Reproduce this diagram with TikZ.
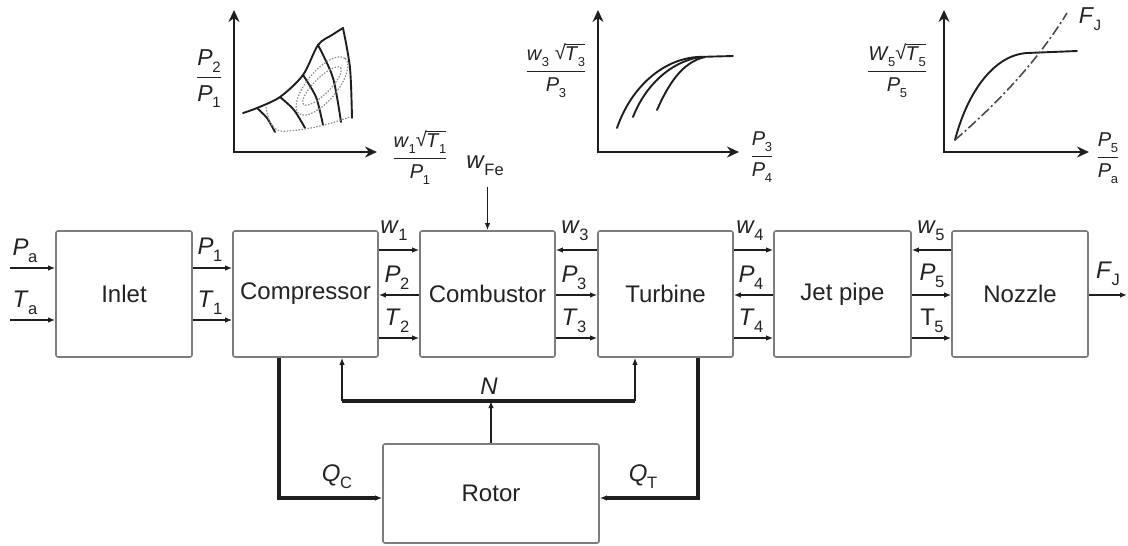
\documentclass[tikz,border=0pt]{standalone}
\usepackage{amsmath}
\usepackage{fontspec}
\setmainfont{Liberation Sans}
\usetikzlibrary{arrows.meta,calc}
\definecolor{txt}{RGB}{35,35,35}
\definecolor{bordergray}{RGB}{125,125,125}
\definecolor{linec}{RGB}{30,30,30}
\definecolor{dotc}{RGB}{140,140,140}
\newcommand\ilab[2]{\textit{#1}\kern-0.5pt\raisebox{-0.3em}{\fontsize{16.5}{16}\selectfont #2}}
\newcommand\glab[2]{\textit{#1}\kern-0.5pt\raisebox{-0.3em}{\fontsize{13}{13}\selectfont #2}}
\newcommand\blab[2]{\textit{#1}\kern-0.5pt\raisebox{-0.3em}{\fontsize{15}{15}\selectfont #2}}
\newcommand\sqT[1]{\raisebox{0.05em}{√}\kern-0.8pt$\overline{\hbox{#1}}$}
\newcommand\gfr[2]{$\genfrac{}{}{1.4pt}{0}{\hbox{#1}}{\hbox{#2}}$}
\begin{document}
\begin{tikzpicture}[x=1pt,y=-1pt,
  blk/.style={draw=bordergray, line width=1.6pt, rounded corners=2pt, fill=white,
    font=\fontsize{24}{26}\selectfont, text=txt, minimum height=126pt, inner sep=1pt},
  lbl/.style={font=\fontsize{24}{26}\selectfont, text=txt, inner sep=0pt},
  glb/.style={font=\fontsize{20}{22}\selectfont, text=txt, inner sep=0pt},
  arr/.style={draw=linec, line width=1.5pt, -{Latex[length=7pt,width=5.5pt]}},
  thk/.style={draw=linec, line width=3.2pt},
  axis/.style={draw=linec, line width=1.8pt, {Stealth[length=12pt,width=11pt]}-{Stealth[length=12pt,width=11pt]}},
  crv/.style={draw=linec, line width=1.9pt, line cap=round},
  dotl/.style={draw=dotc, line width=1.2pt, dash pattern=on 1.5pt off 1.5pt},
  dashdot/.style={draw=linec!80, line width=1.6pt, dash pattern=on 10pt off 3pt on 2pt off 3pt}
]
\useasboundingbox (0,0) rectangle (1128,546);

% ---------------- blocks
\node[blk, minimum width=136pt] (inlet) at (124,294) {Inlet};
\node[blk, minimum width=145pt] (comp) at (305.5,294) {Compressor};
\node[blk, minimum width=135pt] (comb) at (487.5,294) {Combustor};
\node[blk, minimum width=135pt] (turb) at (665.5,294) {Turbine};
\node[blk, minimum width=137pt] (jet) at (842.5,294) {Jet pipe};
\node[blk, minimum width=136pt] (noz) at (1020,294) {Nozzle};
\node[blk, minimum width=216pt, minimum height=99pt] (rotor) at (491,493.5) {Rotor};

% ---------------- level coordinates
\coordinate (yA) at (0,268);
\coordinate (yB) at (0,320);
\coordinate (yW) at (0,250);
\coordinate (yP) at (0,295);
\coordinate (yT) at (0,338);
\coordinate (yQ) at (0,498);
\coordinate (pa) at (10,268);
\coordinate (ta) at (10,320);
\coordinate (fj) at (1127,295);
\coordinate (wfe) at (487.5,187);

% ---------------- horizontal connectors
\draw[arr] (pa) -- (inlet.west |- pa);
\draw[arr] (ta) -- (inlet.west |- ta);
\draw[arr] (inlet.east |- yA) -- (comp.west |- yA);
\draw[arr] (inlet.east |- yB) -- (comp.west |- yB);
\draw[arr] (comp.east |- yW) -- (comb.west |- yW);
\draw[arr] (comb.west |- yP) -- (comp.east |- yP);
\draw[arr] (comp.east |- yT) -- (comb.west |- yT);
\draw[arr] (turb.west |- yW) -- (comb.east |- yW);
\draw[arr] (comb.east |- yP) -- (turb.west |- yP);
\draw[arr] (comb.east |- yT) -- (turb.west |- yT);
\draw[arr] (turb.east |- yW) -- (jet.west |- yW);
\draw[arr] (jet.west |- yP) -- (turb.east |- yP);
\draw[arr] (turb.east |- yT) -- (jet.west |- yT);
\draw[arr] (noz.west |- yW) -- (jet.east |- yW);
\draw[arr] (jet.east |- yP) -- (noz.west |- yP);
\draw[arr] (jet.east |- yT) -- (noz.west |- yT);
\draw[arr] (noz.east |- yP) -- (fj);
\draw[arr] (wfe) -- (comb.north);

% ---------------- rotor connectors
\coordinate (cqx) at (279,0);
\coordinate (tqx) at (698,0);
\coordinate (nl) at (342,401);
\coordinate (nr) at (635,401);
\draw[thk] (comp.south -| cqx) -- (cqx |- yQ) -- ($(rotor.west |- yQ)+(-6,0)$);
\draw[arr] (cqx |- yQ) -- (rotor.west |- yQ);
\draw[thk] (turb.south -| tqx) -- (tqx |- yQ) -- ($(rotor.east |- yQ)+(6,0)$);
\draw[arr] (tqx |- yQ) -- (rotor.east |- yQ);
\draw[thk] (nl) -- (nr);
\draw[arr] (nl) -- (nl |- comp.south);
\draw[arr] (nr) -- (nr |- turb.south);
\draw[arr] (rotor.north) -- (rotor.north |- nl);

% ---------------- labels
\node[lbl] (lpa) at (25,251) {\ilab{P}{a}};
\node[lbl] (lta) at (25,303) {\ilab{T}{a}};
\node[lbl] (lp1) at (210,250) {\ilab{P}{1}};
\node[lbl] (lt1) at (210,303) {\ilab{T}{1}};
\node[lbl] (lw1) at (394,231) {\ilab{w}{1}};
\node[lbl] (lp2) at (397,278) {\ilab{P}{2}};
\node[lbl] (lt2) at (397,321) {\ilab{T}{2}};
\node[lbl] (lw3) at (575,231) {\ilab{w}{3}};
\node[lbl] (lp3) at (574,278) {\ilab{P}{3}};
\node[lbl] (lt3) at (574,321) {\ilab{T}{3}};
\node[lbl] (lw4) at (750,231) {\ilab{w}{4}};
\node[lbl] (lp4) at (751,278) {\ilab{P}{4}};
\node[lbl] (lt4) at (751,321) {\ilab{T}{4}};
\node[lbl] (lw5) at (931,231) {\ilab{w}{5}};
\node[lbl] (lp5) at (932,276) {\ilab{P}{5}};
\node[lbl] (lt5) at (932,321) {T\kern-0.5pt\raisebox{-0.3em}{\fontsize{16.5}{16}\selectfont 5}};
\node[lbl] (lfj) at (1108,274) {\ilab{F}{J}};
\node[lbl] (lwfe) at (485,166) {\ilab{w}{Fe}};
\node[lbl] (ln) at (489,386) {\textit{N}};
\node[lbl] (lqc) at (337,477) {\ilab{Q}{C}};
\node[lbl] (lqt) at (643,477) {\ilab{Q}{T}};

% ---------------- graph 1: compressor map
\draw[axis] (234,10) -- (234,152) -- (377,152);
\draw[crv] plot[smooth] coordinates {(243,113) (257,108) (280,97) (303,75) (318,45) (332,35) (343,28)};
\draw[crv] plot[smooth] coordinates {(257,108) (267,118) (275,132)};
\draw[crv] plot[smooth] coordinates {(280,97) (294,110) (305,128)};
\draw[crv] plot[smooth] coordinates {(303,75) (316,97) (323,125)};
\draw[crv] plot[smooth] coordinates {(318,45) (333,78) (341,122)};
\draw[crv] plot[smooth] coordinates {(343,28) (350,68) (352,118)};
\draw[dotl] plot[smooth] coordinates {(266,107) (270,122) (280,131) (305,129) (328,124) (350,117)};
\draw[dotl] (322,86) ellipse[x radius=26, y radius=8, rotate=45];
\draw[dotl] (322,86) ellipse[x radius=36, y radius=15, rotate=50];
\node[font=\fontsize{23}{25}\selectfont, text=txt, inner sep=0pt] (g1y) at (209,79) {\gfr{\blab{P}{2}}{\blab{P}{1}}};
\node[glb] (g1x) at (420,157) {\gfr{\glab{w}{1}\sqT{\glab{T}{1}}}{\glab{P}{1}}};

% ---------------- graph 2: turbine characteristic
\draw[axis] (598,10) -- (598,152) -- (739,152);
\draw[crv] (617,128) .. controls (630,90) and (660,60) .. (697,57);
\draw[crv] (633,117) .. controls (645,86) and (670,62) .. (700,57);
\draw[crv] (657,110) .. controls (668,85) and (682,62) .. (705,57);
\draw[crv] (697,57) -- (733,56);
\node[glb] (g2y) at (556,70) {\gfr{\glab{w}{3} \sqT{\glab{T}{3}}}{\glab{P}{3}}};
\node[glb] (g2x) at (762,157) {\gfr{\glab{P}{3}}{\glab{P}{4}}};

% ---------------- graph 3: nozzle characteristic
\draw[axis] (944,10) -- (944,152) -- (1089,152);
\draw[crv] (955,140) .. controls (968,90) and (995,55) .. (1027,53) -- (1077,51);
\draw[dashdot] (955,140) .. controls (995,105) and (1035,65) .. (1067,13);
\node[glb] (g3y) at (897,70) {\gfr{\glab{W}{5}\sqT{\glab{T}{5}}}{\glab{P}{5}}};
\node[glb] (g3x) at (1108,158) {\gfr{\glab{P}{5}}{\glab{P}{a}}};
\node[font=\fontsize{23}{24}\selectfont, text=txt, inner sep=0pt] (gfj) at (1090,19) {\textit{F}\kern-0.5pt\raisebox{-0.3em}{\fontsize{15}{15}\selectfont J}};
\end{tikzpicture}
\end{document}
